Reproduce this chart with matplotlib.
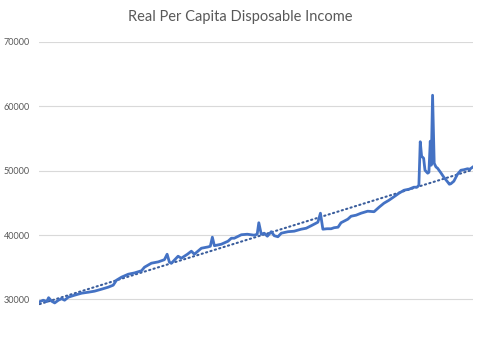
import numpy as np
import matplotlib
matplotlib.use('Agg')
import matplotlib.pyplot as plt

# Values (decimal year, dollars)
years = [
    1992.20, 1992.47, 1992.72, 1992.86, 1993.08, 1993.31, 1993.58, 1993.82, 1994.04, 1994.31,
    1994.78, 1995.30, 1995.79, 1996.25, 1996.77, 1997.26, 1997.63, 1997.87, 1998.24, 1998.74,
    1999.20, 1999.72, 1999.94, 2000.45, 2000.95, 2001.41, 2001.61, 2001.78, 2001.93, 2002.42,
    2002.66, 2003.11, 2003.40, 2003.62, 2004.14, 2004.63, 2004.80, 2004.95, 2005.10, 2005.61,
    2006.11, 2006.35, 2006.57, 2007.09, 2007.53, 2008.04, 2008.26, 2008.38, 2008.56, 2008.78,
    2009.01, 2009.30, 2009.52, 2009.79, 2010.04, 2010.53, 2010.99, 2011.51, 2011.88, 2012.25,
    2012.74, 2012.93, 2013.11, 2013.42, 2013.72, 2013.94, 2014.23, 2014.45, 2014.95, 2015.19,
    2015.56, 2015.93, 2016.42, 2016.89, 2017.26, 2017.62, 2017.99, 2018.36, 2018.73, 2019.10,
    2019.47, 2019.83, 2020.06, 2020.20, 2020.30, 2020.40, 2020.55, 2020.65, 2020.85, 2020.94,
    2021.04, 2021.11, 2021.21, 2021.33, 2021.46, 2021.58, 2021.82, 2022.04, 2022.32, 2022.45,
    2022.56, 2022.78, 2023.05, 2023.30, 2023.52, 2023.79, 2023.96, 2024.16,
]
income = [
    29660, 29890, 29660, 30280, 29740, 29470, 29890, 30120, 29890, 30360,
    30670, 30980, 31130, 31290, 31600, 31910, 32220, 32990, 33460, 33920,
    34120, 34460, 35010, 35630, 35830, 36170, 37020, 35780, 35630, 36710,
    36400, 37020, 37490, 37020, 37950, 38150, 38260, 39660, 38340, 38570,
    39040, 39500, 39500, 40040, 40120, 39970, 40120, 41900, 40120, 40280,
    39810, 40510, 39890, 39730, 40280, 40510, 40590, 40900, 41050, 41440,
    41980, 43380, 40900, 40970, 40970, 41130, 41210, 41900, 42450, 42910,
    43070, 43380, 43690, 43610, 44310, 44930, 45390, 45930, 46480, 46940,
    47100, 47410, 47410, 47720, 54460, 52210, 51900, 50040, 49580, 49730,
    54540, 50820, 61670, 51130, 50550, 50350, 49650, 48960, 48230, 47870,
    47950, 48340, 49420, 50040, 50120, 50270, 50200, 50510,
]
yticks = [30000, 40000, 50000, 60000, 70000]

x = np.array(years)
y = np.array(income)

# linear trendline, like Excel's; weight points by the time they cover
# since the readings are not evenly spaced
w = np.sqrt(np.gradient(x))
coef = np.polyfit(x, y, 1, w=w)
trend = np.polyval(coef, x)

plt.rcParams['font.family'] = ['Lato', 'DejaVu Sans']

fig = plt.figure(figsize=(4.85, 3.6), dpi=100)
ax = fig.add_axes([0.0804, -0.0111, 0.895, 0.8958])

ax.plot(x, y, color='#4472C4', linewidth=2.0, solid_joinstyle='round', zorder=3)
ax.plot(x, trend, color='#3A5D9C', linewidth=1.5, linestyle=(0, (0.6, 1.6)),
        dash_capstyle='round', zorder=2)

ax.set_ylim(20000, 70000)
ax.set_xlim(1992.15, 2024.2)
ax.set_yticks(yticks)
ax.grid(axis='y', color='#D9D9D9', linewidth=0.8)
ax.set_axisbelow(True)
ax.set_xticks([])
for s in ax.spines.values():
    s.set_visible(False)
ax.tick_params(axis='y', length=0, pad=6.5, labelsize=6.5, labelcolor='#595959')

fig.text(0.495, 0.953, 'Real Per Capita Disposable Income', ha='center', va='center',
         fontsize=10.5, color='#595959')

fig.savefig('out.png', dpi=100)
